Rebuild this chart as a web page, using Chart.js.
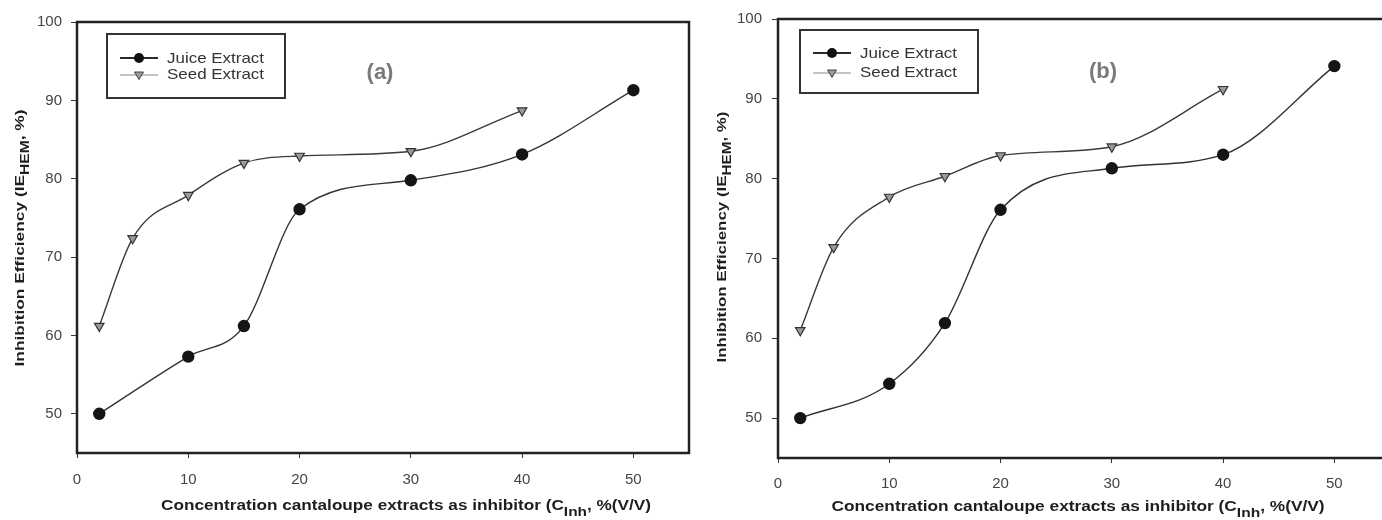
<!DOCTYPE html>
<html>
<head>
<meta charset="utf-8">
<script src="https://cdn.jsdelivr.net/npm/chart.js@4.4.1/dist/chart.umd.min.js"></script>
<style>
  html, body { margin: 0; padding: 0; background: #fff; overflow: hidden; }
  #wrap { position: relative; width: 1382px; height: 520px; overflow: hidden; }
  .panel { position: absolute; top: 0; height: 520px; }
  #panelA { left: 0; width: 700px; }
  #panelB { left: 692px; width: 708px; }
</style>
</head>
<body>
<div id="wrap">
  <div class="panel" id="panelA"><canvas id="chartA" width="700" height="520"></canvas></div>
  <div class="panel" id="panelB"><canvas id="chartB" width="708" height="520"></canvas></div>
</div>
<script>
// concentrations (% V/V)
const juiceConc = [2, 10, 15, 20, 30, 40, 50];
const seedConc = [2, 5, 10, 15, 20, 30, 40];

// inhibition efficiency, panel (a)
const juiceA = [50.0, 57.3, 61.2, 76.1, 79.8, 83.1, 91.3];
const seedA = [61.2, 72.4, 77.9, 82.0, 82.9, 83.5, 88.7];

// inhibition efficiency, panel (b)
const juiceB = [50.0, 54.3, 61.9, 76.1, 81.3, 83.0, 94.1];
const seedB = [61.0, 71.4, 77.7, 80.3, 82.9, 84.0, 91.2];

const xTicks = [0, 10, 20, 30, 40, 50];
const yTicks = [50, 60, 70, 80, 90, 100];

const FONT = 'Liberation Sans';

//////////////////////////
/// TEXT HELPERS       ///
//////////////////////////

// draws text runs (some subscript) centred on cx, cy, stretched to a target length
function drawRuns(ctx, runs, cx, cy, size, target, rotate) {
    ctx.save();
    ctx.translate(cx, cy);
    if (rotate) ctx.rotate(-Math.PI / 2);
    ctx.fillStyle = '#1e1e1e';
    ctx.textBaseline = 'middle';
    ctx.textAlign = 'left';
    let total = 0;
    runs.forEach(r => {
        ctx.font = 'bold ' + (r.sub ? size * 0.9 : size) + 'px "' + FONT + '"';
        r.w = ctx.measureText(r.t).width;
        total += r.w;
    });
    ctx.scale(target / total, 1);
    let x = -total / 2;
    runs.forEach(r => {
        ctx.font = 'bold ' + (r.sub ? size * 0.9 : size) + 'px "' + FONT + '"';
        ctx.fillText(r.t, x, r.sub ? size * 0.42 : 0);
        x += r.w;
    });
    ctx.restore();
}

function drawLegend(ctx, b) {
    ctx.save();
    ctx.fillStyle = '#fff';
    ctx.fillRect(b.x, b.y, b.w, b.h);
    ctx.strokeStyle = '#333';
    ctx.lineWidth = 2;
    ctx.strokeRect(b.x, b.y, b.w, b.h);

    let y1 = b.y + b.r1, y2 = b.y + b.r2;
    // juice row
    ctx.strokeStyle = '#2a2a2a';
    ctx.lineWidth = 2;
    ctx.beginPath(); ctx.moveTo(b.x + 13, y1); ctx.lineTo(b.x + 51, y1); ctx.stroke();
    ctx.fillStyle = '#111';
    ctx.beginPath(); ctx.arc(b.x + 32, y1, 5, 0, Math.PI * 2); ctx.fill();
    // seed row
    ctx.strokeStyle = '#c4c4c4';
    ctx.beginPath(); ctx.moveTo(b.x + 13, y2); ctx.lineTo(b.x + 51, y2); ctx.stroke();
    ctx.fillStyle = '#999';
    ctx.strokeStyle = '#444';
    ctx.lineWidth = 1;
    ctx.beginPath();
    ctx.moveTo(b.x + 27.5, y2 - 3);
    ctx.lineTo(b.x + 36.5, y2 - 3);
    ctx.lineTo(b.x + 32, y2 + 4.5);
    ctx.closePath();
    ctx.fill(); ctx.stroke();

    ctx.fillStyle = '#333';
    ctx.font = '15px "' + FONT + '"';
    ctx.textBaseline = 'middle';
    let sx = 97 / ctx.measureText('Juice Extract').width;
    ctx.translate(b.x + 60, 0);
    ctx.scale(sx, 1);
    ctx.fillText('Juice Extract', 0, y1 + 1);
    ctx.fillText('Seed Extract', 0, y2);
    ctx.restore();
}

  ////////////////////////////
 /////   CHART FACTORY  /////
////////////////////////////

function makeChart(canvasId, juice, seed, L) {
    let decor = {
        id: 'decor',
        afterDraw(chart) {
            let ctx = chart.ctx;
            let a = chart.chartArea;
            ctx.save();
            ctx.strokeStyle = '#222';
            ctx.lineWidth = 2.5;
            ctx.strokeRect(a.left, a.top, a.right - a.left, a.bottom - a.top);
            ctx.restore();

            drawLegend(ctx, L.legend);

            ctx.save();
            ctx.fillStyle = '#7a7a7a';
            ctx.font = 'bold 22px "' + FONT + '"';
            ctx.textAlign = 'center';
            ctx.textBaseline = 'middle';
            ctx.fillText(L.letter, L.letterX, L.letterY);
            ctx.restore();

            drawRuns(ctx, [
                { t: 'Concentration cantaloupe extracts as inhibitor (C' },
                { t: 'Inh', sub: true },
                { t: ', %(V/V)' }
            ], L.xTitleX, L.xTitleY, 14.5, L.xTitleW, false);

            drawRuns(ctx, [
                { t: 'Inhibition Efficiency (IE' },
                { t: 'HEM', sub: true },
                { t: ', %)' }
            ], L.yTitleX, L.yTitleY, 13.5, L.yTitleW, true);
        }
    };

    return new Chart(document.getElementById(canvasId), {
        type: 'line',
        data: {
            datasets: [
                {
                    label: 'Juice Extract',
                    data: juiceConc.map((c, i) => ({ x: c, y: juice[i] })),
                    borderColor: '#333',
                    borderWidth: 1.4,
                    pointStyle: 'circle',
                    pointRadius: 5.5,
                    pointBackgroundColor: '#151515',
                    pointBorderColor: '#151515',
                    cubicInterpolationMode: 'monotone'
                },
                {
                    label: 'Seed Extract',
                    data: seedConc.map((c, i) => ({ x: c, y: seed[i] })),
                    borderColor: '#3a3a3a',
                    borderWidth: 1.4,
                    pointStyle: 'triangle',
                    pointRotation: 180,
                    pointRadius: 5.5,
                    pointBackgroundColor: '#9a9a9a',
                    pointBorderColor: '#333',
                    pointBorderWidth: 1.2,
                    cubicInterpolationMode: 'monotone'
                }
            ]
        },
        options: {
            responsive: false,
            animation: false,
            layout: { padding: { left: 0, top: L.top, right: L.right, bottom: 0 } },
            plugins: { legend: { display: false }, tooltip: { enabled: false } },
            scales: {
                x: {
                    type: 'linear',
                    min: 0,
                    max: 55,
                    afterBuildTicks: s => { s.ticks = xTicks.map(v => ({ value: v })); },
                    afterFit: s => { s.height = L.xAxisH; },
                    grid: { drawOnChartArea: false, tickLength: 5, color: '#333' },
                    border: { display: false },
                    ticks: { color: '#444', padding: L.xPad, maxRotation: 0, font: { family: FONT, size: 15 } }
                },
                y: {
                    min: 45,
                    max: 100,
                    afterBuildTicks: s => { s.ticks = yTicks.map(v => ({ value: v })); },
                    afterFit: s => { s.width = L.yAxisW; },
                    grid: { drawOnChartArea: false, tickLength: 6, color: '#333' },
                    border: { display: false },
                    ticks: { color: '#444', padding: L.yPad, font: { family: FONT, size: 15 } }
                }
            }
        },
        plugins: [decor]
    });
}

makeChart('chartA', juiceA, seedA, {
    top: 22, right: 11, xAxisH: 67, yAxisW: 77, xPad: 13, yPad: 9,
    legend: { x: 107, y: 34, w: 178, h: 64, r1: 24, r2: 41 },
    letter: '(a)', letterX: 380, letterY: 73,
    xTitleX: 406, xTitleY: 506, xTitleW: 490,
    yTitleX: 20, yTitleY: 238, yTitleW: 257
});

makeChart('chartB', juiceB, seedB, {
    top: 18, right: 10, xAxisH: 62, yAxisW: 86, xPad: 12, yPad: 10,
    legend: { x: 108, y: 30, w: 178, h: 63, r1: 23, r2: 43 },
    letter: '(b)', letterX: 411, letterY: 72,
    xTitleX: 386, xTitleY: 507, xTitleW: 493,
    yTitleX: 30, yTitleY: 237, yTitleW: 251
});
</script>
</body>
</html>
